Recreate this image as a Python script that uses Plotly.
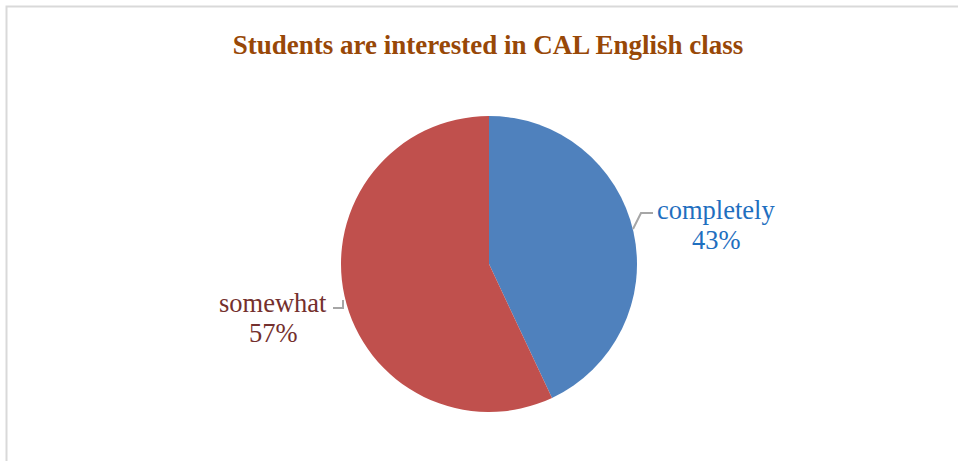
import plotly.graph_objects as go

categories = ["completely", "somewhat"]
values = [43, 57]
slice_colors = ["#4f81bd", "#c0504d"]
label_colors = ["#1f6fbf", "#74302d"]

W, H = 958, 461
cx, cy, r = 489, 264, 148

fig = go.Figure(go.Pie(
    labels=categories,
    values=values,
    sort=False,
    direction="clockwise",
    rotation=0,
    marker=dict(colors=slice_colors, line=dict(width=0)),
    textinfo="none",
    hoverinfo="label+percent",
    showlegend=False,
    domain=dict(x=[(cx - r) / W, (cx + r) / W],
                y=[1 - (cy + r) / H, 1 - (cy - r) / H]),
))


def px(x, y):
    return x / W, 1 - y / H


total = sum(values)
# (centre x, name line y, percent line y) for each outside label
label_pos = [(716, 210, 240), (273, 303, 333)]
for name, v, col, (lx, ly1, ly2) in zip(categories, values, label_colors, label_pos):
    for txt, ly in ((name, ly1), (f"{round(100 * v / total)}%", ly2)):
        ax, ay = px(lx, ly)
        fig.add_annotation(
            x=ax, y=ay, xref="paper", yref="paper",
            xanchor="center", yanchor="middle",
            text=txt, showarrow=False,
            font=dict(family="Liberation Serif", size=26.5, color=col),
        )

# leader lines
leaders = [
    [(633, 229), (641, 213), (653, 213)],
    [(333, 308), (343, 308), (343, 300)],
]
for pts in leaders:
    path = "M " + " L ".join(f"{px(x, y)[0]},{px(x, y)[1]}" for x, y in pts)
    fig.add_shape(type="path", path=path, xref="paper", yref="paper",
                  line=dict(color="#a6a6a6", width=2))

# chart frame
fig.add_shape(type="rect", xref="paper", yref="paper",
              x0=6.5 / W, y0=-0.05, x1=1.05, y1=1 - 6.5 / H,
              line=dict(color="#d9d9d9", width=2), fillcolor="rgba(0,0,0,0)",
              layer="below")

fig.update_layout(
    width=W, height=H,
    margin=dict(l=0, r=0, t=0, b=0),
    paper_bgcolor="white",
    plot_bgcolor="white",
    title=dict(
        text="<b>Students are interested in CAL English class</b>",
        x=488 / W, xanchor="center", y=1 - 45 / H, yanchor="middle",
        font=dict(family="Liberation Serif", size=27, color="#984807"),
    ),
)

fig.write_html("out.html")
